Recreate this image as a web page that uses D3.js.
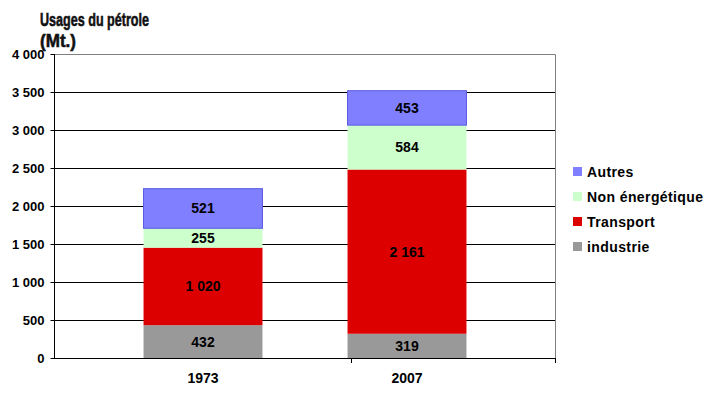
<!DOCTYPE html>
<html>
<head>
<meta charset="utf-8">
<script src="https://cdn.jsdelivr.net/npm/d3@7"></script>
<style>
  html, body { margin: 0; padding: 0; background: #fff; }
  svg text { font-family: "Liberation Sans", Arial, sans-serif; }
  svg text.title { font-family: "Liberation Sans Narrow", "Liberation Sans", sans-serif; }
</style>
</head>
<body>
<div id="chart"></div>
<script>
(function () {
  'use strict';

  const years = ['1973', '2007'];
  const seriesNames = ['industrie', 'Transport', 'Non énergétique', 'Autres'];
  const industrie = [432, 319];
  const transport = [1020, 2161];
  const nonEnergetique = [255, 584];
  const autres = [521, 453];
  const yTicks = [0, 500, 1000, 1500, 2000, 2500, 3000, 3500, 4000];

  const colors = {
    'industrie': '#999999',
    'Transport': '#dd0000',
    'Non énergétique': '#ccffcc',
    'Autres': '#7f7fff'
  };

  const W = 712, H = 397;
  const plot = { left: 54, right: 555, top: 54, bottom: 358 };

  const svg = d3.select('#chart').append('svg')
    .attr('width', W).attr('height', H);

  const y = d3.scaleLinear().domain([0, 4000]).range([plot.bottom, plot.top]);
  const x = d3.scaleBand().domain(years).range([101, 509]).paddingInner(0.417).paddingOuter(0.2085);
  const cx = (d) => x(d) + x.bandwidth() / 2;

  const fmt = (v) => d3.format(',')(v).replace(/,/g, ' ');

  // gridlines
  svg.append('g').selectAll('line')
    .data(yTicks.filter((d) => d > 0 && d < 4000))
    .enter().append('line')
    .attr('x1', plot.left).attr('x2', plot.right)
    .attr('y1', (d) => y(d) + 0.5).attr('y2', (d) => y(d) + 0.5)
    .attr('stroke', '#000').attr('stroke-width', 1);

  // plot area border top/right
  svg.append('path')
    .attr('d', `M${plot.left},${y(4000) + 0.5}H${plot.right + 0.5}V${plot.bottom}`)
    .attr('fill', 'none').attr('stroke', '#808080').attr('stroke-width', 1);

  // stacked data
  const rows = years.map((yr, i) => ({
    year: yr,
    'industrie': industrie[i],
    'Transport': transport[i],
    'Non énergétique': nonEnergetique[i],
    'Autres': autres[i]
  }));
  const stacked = d3.stack().keys(seriesNames)(rows);

  const layers = svg.append('g').selectAll('g')
    .data(stacked).enter().append('g')
    .attr('fill', (d) => colors[d.key]);

  layers.selectAll('rect')
    .data((d) => d.map((p) => Object.assign(p, { key: d.key })))
    .enter().append('rect')
    .attr('x', (d) => x(d.data.year))
    .attr('width', x.bandwidth())
    .attr('y', (d) => y(d[1]))
    .attr('height', (d) => y(d[0]) - y(d[1]))
    .attr('stroke', (d) => d.key === 'Autres' ? '#5a5ae0' : 'none')
    .attr('stroke-width', 1);

  layers.selectAll('text')
    .data((d) => d)
    .enter().append('text')
    .attr('x', (d) => cx(d.data.year))
    .attr('y', (d) => (y(d[0]) + y(d[1])) / 2 + 5)
    .attr('text-anchor', 'middle')
    .attr('font-size', 14).attr('font-weight', 'bold')
    .attr('fill', '#000')
    .text((d) => fmt(d[1] - d[0]));

  // y axis
  const yAxis = svg.append('g')
    .attr('transform', `translate(${plot.left + 0.5},0)`)
    .call(d3.axisLeft(y).tickValues(yTicks).tickSize(4).tickPadding(6).tickFormat(fmt));
  yAxis.select('.domain').attr('stroke', '#000').attr('d', `M0,${plot.top}V${plot.bottom + 0.5}`);
  yAxis.selectAll('.tick line').attr('stroke', '#000');
  yAxis.selectAll('.tick text')
    .attr('font-size', 13).attr('font-weight', 'bold')
    .attr('fill', '#000');

  // x axis: Excel-style tick marks after each category
  const tickOffset = plot.right - cx(years[years.length - 1]);
  const xAxisG = svg.append('g');
  xAxisG.append('line')
    .attr('x1', plot.left).attr('x2', plot.right + 1)
    .attr('y1', plot.bottom + 0.5).attr('y2', plot.bottom + 0.5)
    .attr('stroke', '#000');
  xAxisG.selectAll('line.tk')
    .data(years).enter().append('line').attr('class', 'tk')
    .attr('x1', (d) => Math.round(cx(d) + tickOffset) + 0.5)
    .attr('x2', (d) => Math.round(cx(d) + tickOffset) + 0.5)
    .attr('y1', plot.bottom).attr('y2', plot.bottom + 5)
    .attr('stroke', '#000');
  xAxisG.selectAll('text')
    .data(years).enter().append('text')
    .attr('x', cx)
    .attr('y', 383)
    .attr('text-anchor', 'middle')
    .attr('font-size', 14).attr('font-weight', 'bold')
    .text((d) => d);

  // title (condensed face, thickened a bit)
  const title = svg.append('g')
    .attr('fill', '#111').attr('stroke', '#111').attr('stroke-width', 0.6);
  title.append('text').attr('class', 'title')
    .attr('x', 40).attr('y', 26)
    .attr('font-size', 19).attr('font-weight', 'bold')
    .attr('textLength', 109).attr('lengthAdjust', 'spacingAndGlyphs')
    .text('Usages du pétrole');
  title.append('text').attr('class', 'title')
    .attr('x', 40).attr('y', 47)
    .attr('font-size', 19).attr('font-weight', 'bold')
    .attr('textLength', 36).attr('lengthAdjust', 'spacingAndGlyphs')
    .text('(Mt.)');

  // legend
  const legendOrder = ['Autres', 'Non énergétique', 'Transport', 'industrie'];
  const legend = svg.append('g').selectAll('g')
    .data(legendOrder).enter().append('g')
    .attr('transform', (d, i) => `translate(573,${172 + i * 25})`);
  legend.append('rect')
    .attr('x', 0).attr('y', -5).attr('width', 9).attr('height', 9)
    .attr('fill', (d) => colors[d]);
  legend.append('text')
    .attr('x', 14).attr('y', 5)
    .attr('font-size', 14).attr('font-weight', 'bold')
    .attr('letter-spacing', 0.4)
    .text((d) => d);
})();
</script>
</body>
</html>
